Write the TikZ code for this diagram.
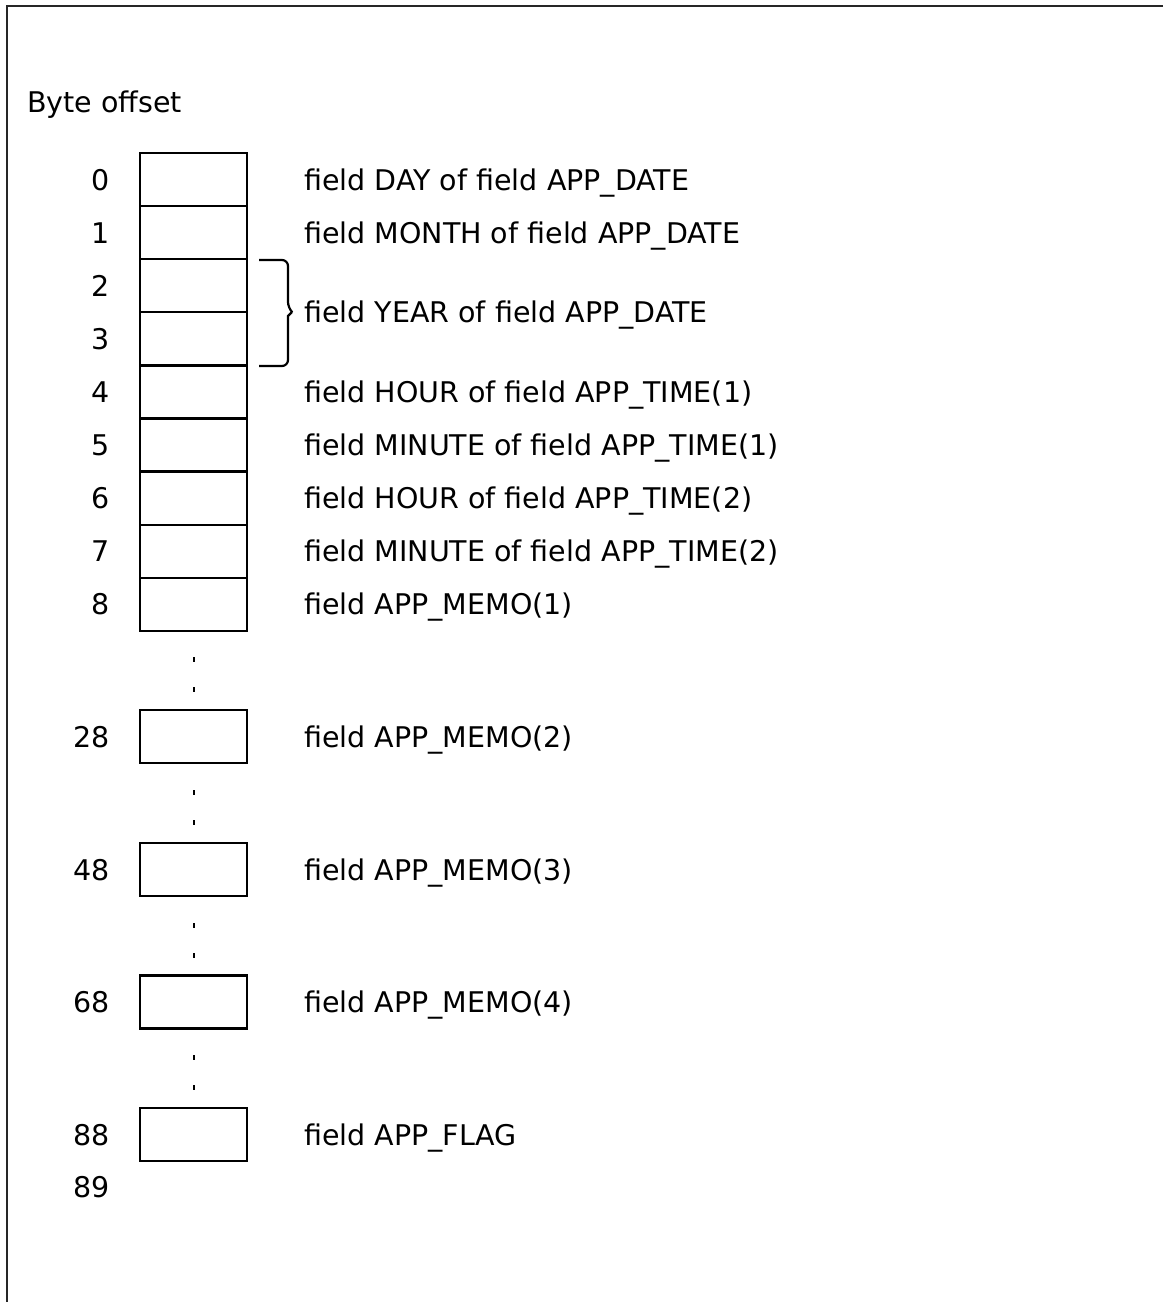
\documentclass[tikz,border=0pt]{standalone}
\usepackage{fontspec}
\setmainfont{DejaVu Sans}
\begin{document}
\begin{tikzpicture}[x=1pt,y=-1pt,
  cell/.style={draw, line width=2.2pt, minimum width=107pt, minimum height=53pt, inner sep=0pt},
  num/.style={anchor=base east, inner sep=0pt, font=\fontsize{28.5}{30}\selectfont},
  lab/.style={anchor=base west, inner sep=0pt, font=\fontsize{28.5}{30}\selectfont}]
\useasboundingbox (0,0) rectangle (1163,1302);
\draw[line width=2pt, black!85] (1163,6) -- (7,6) -- (7,1302);
\node[lab] (title) at (27,112) {Byte offset};
% contiguous cells
\foreach \i/\y in {0/179.5,1/232.6,2/285.7,3/338.8,4/391.9,5/445,6/498.1,7/551.2,8/604.3}{
  \node[cell] (b\i) at (193.5,\y) {};
  \node[num] (n\i) at (110,\y+10.5) {\i};
}
\node[lab] (l0) at (304,190) {field DAY of field APP\_DATE};
\node[lab] (l1) at (304,243.1) {field MONTH of field APP\_DATE};
\node[lab] (l2) at (304,322) {field YEAR of field APP\_DATE};
\node[lab] (l4) at (304,402.4) {field HOUR of field APP\_TIME(1)};
\node[lab] (l5) at (304,455.5) {field MINUTE of field APP\_TIME(1)};
\node[lab] (l6) at (304,508.6) {field HOUR of field APP\_TIME(2)};
\node[lab] (l7) at (304,561.7) {field MINUTE of field APP\_TIME(2)};
\node[lab] (l8) at (304,614.8) {field APP\_MEMO(1)};
% separate cells
\foreach \i/\y in {28/736.5,48/869.5,68/1002,88/1134.5}{
  \node[cell] (b\i) at (193.5,\y) {};
  \node[num] (n\i) at (110,\y+10.5) {\i};
}
\node[num] (n89) at (110,1197) {89};
\node[lab] (l28) at (304,747) {field APP\_MEMO(2)};
\node[lab] (l48) at (304,880) {field APP\_MEMO(3)};
\node[lab] (l68) at (304,1012.5) {field APP\_MEMO(4)};
\node[lab] (l88) at (304,1145) {field APP\_FLAG};
% brace
\coordinate (bt) at (259,260);
\coordinate (bb) at (259,366);
\draw[line width=2.2pt, rounded corners=6pt] (bt) -- (288,260) -- (288,308) [sharp corners]-- (292,312) -- (288,316) [rounded corners=6pt]-- (288,366) -- (bb);
% dots
\foreach \y in {657,687,790,820,923,953,1055,1085}{
  \fill (192.5,\y) rectangle +(2.5,5);
}
\end{tikzpicture}
\end{document}
